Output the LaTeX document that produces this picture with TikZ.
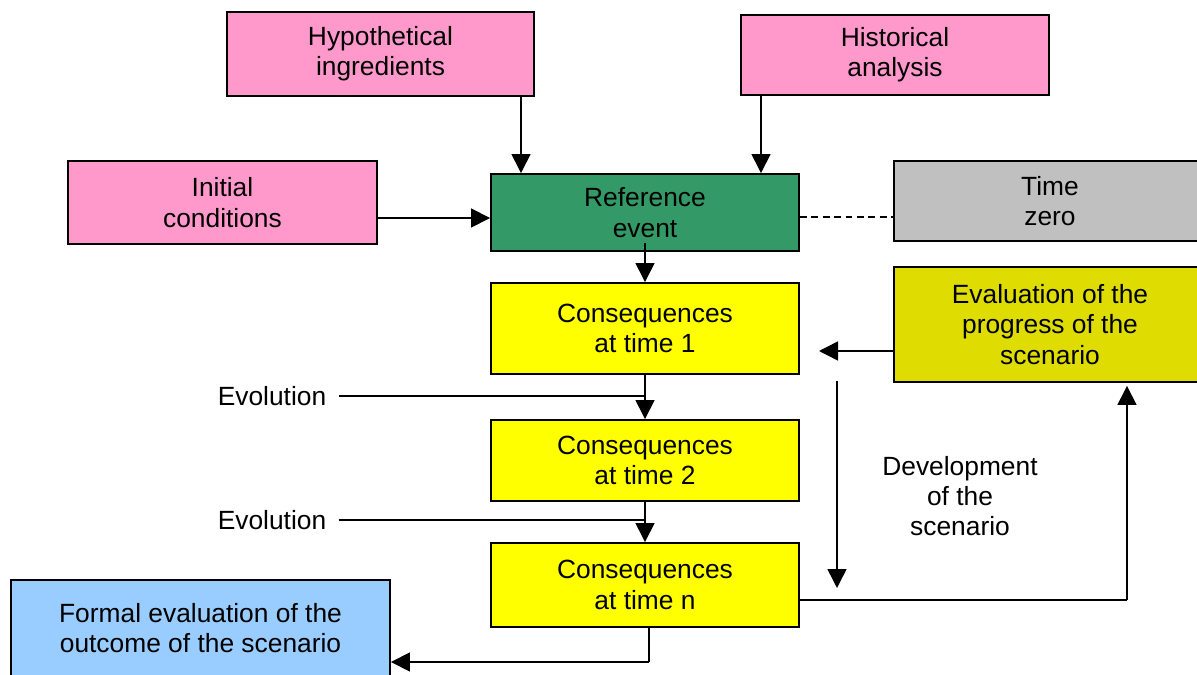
\documentclass[tikz,border=0pt]{standalone}
\usepackage{fontspec}
\setmainfont{Liberation Sans}
\usetikzlibrary{arrows.meta}
\definecolor{pinkbox}{HTML}{FF99CC}
\definecolor{greenbox}{HTML}{339966}
\definecolor{graybox}{HTML}{C0C0C0}
\definecolor{yellowbox}{HTML}{FFFF00}
\definecolor{olivebox}{HTML}{DEDC00}
\definecolor{bluebox}{HTML}{99CCFF}
\begin{document}
\begin{tikzpicture}[x=0.02cm,y=-0.02cm,
  box/.style={draw=black, line width=1.1pt, align=center, inner sep=0pt,
    font=\fontsize{15}{17.2}\selectfont},
  lbl/.style={align=center, inner sep=0pt, font=\fontsize{15}{17.2}\selectfont},
  line/.style={line width=0.85pt},
  conn/.style={line width=0.85pt, -{Triangle[length=0.38cm,width=0.38cm]}}]
\useasboundingbox (0,0) rectangle (1197,675);
\clip (0,0) rectangle (1197,675);

\node[box, fill=pinkbox, minimum width=6.14cm, minimum height=1.68cm] (hyp) at (380.5,54) {Hypothetical\\ingredients};
\node[box, fill=pinkbox, minimum width=6.16cm, minimum height=1.6cm] (hist) at (895,55) {Historical\\analysis};
\node[box, fill=pinkbox, minimum width=6.18cm, minimum height=1.66cm] (init) at (222.5,202.5) {Initial\\conditions};
\node[box, fill=greenbox, minimum width=6.16cm, minimum height=1.54cm] (ref) at (645,212.5) {Reference\\event};
\node[box, fill=graybox, minimum width=6.24cm, minimum height=1.6cm] (tz) at (1050,201) {Time\\zero};
\node[box, fill=yellowbox, minimum width=6.16cm, minimum height=1.82cm] (c1) at (645,328.5) {Consequences\\at time 1};
\node[box, fill=olivebox, minimum width=6.24cm, minimum height=2.3cm] (eval) at (1050,324.5) {Evaluation of the\\progress of the\\scenario};
\node[box, fill=yellowbox, minimum width=6.16cm, minimum height=1.62cm] (c2) at (645,460.5) {Consequences\\at time 2};
\node[box, fill=yellowbox, minimum width=6.16cm, minimum height=1.68cm] (cn) at (645,585) {Consequences\\at time n};
\node[box, fill=bluebox, minimum width=7.58cm, minimum height=1.92cm] (formal) at (200.5,628) {Formal evaluation of the\\outcome of the scenario};

\node[lbl] (evo1) at (272,396) {Evolution};
\node[lbl] (evo2) at (272,520) {Evolution};
\node[lbl] (dev) at (960,496) {Development\\of the\\scenario};

\coordinate (e1) at (819,351);
\coordinate (d1) at (837,381);
\coordinate (d2) at (837,588);
\coordinate (u1) at (1127,600);
\coordinate (b1) at (649,662);

\draw[conn] (521,0 |- hyp.south) -- (521,0 |- ref.north);
\draw[conn] (761,0 |- hist.south) -- (761,0 |- ref.north);
\draw[conn] (init.east |- 0,218) -- (ref.west |- 0,218);
\draw[line, dash pattern=on 3.9pt off 2.6pt] (ref.east |- 0,217) -- (tz.west |- 0,217);
\draw[conn] ([yshift=0.18cm]ref.south) -- (c1.north);
\draw[conn] (c1.south) -- (c2.north);
\draw[line] ([xshift=0.24cm]evo1.east) -- (evo1.east -| c1.south);
\draw[conn] (c2.south) -- (cn.north);
\draw[line] ([xshift=0.24cm]evo2.east) -- (evo2.east -| c2.south);
\draw[conn] (eval.west |- e1) -- (e1);
\draw[conn] (d1) -- (d2);
\draw[line] (cn.east |- u1) -- (u1);
\draw[conn] (u1) -- ([yshift=-0.06cm]u1 |- eval.south);
\draw[line] (b1 |- cn.south) -- (b1);
\draw[conn] (b1) -- (formal.east |- b1);
\end{tikzpicture}
\end{document}
